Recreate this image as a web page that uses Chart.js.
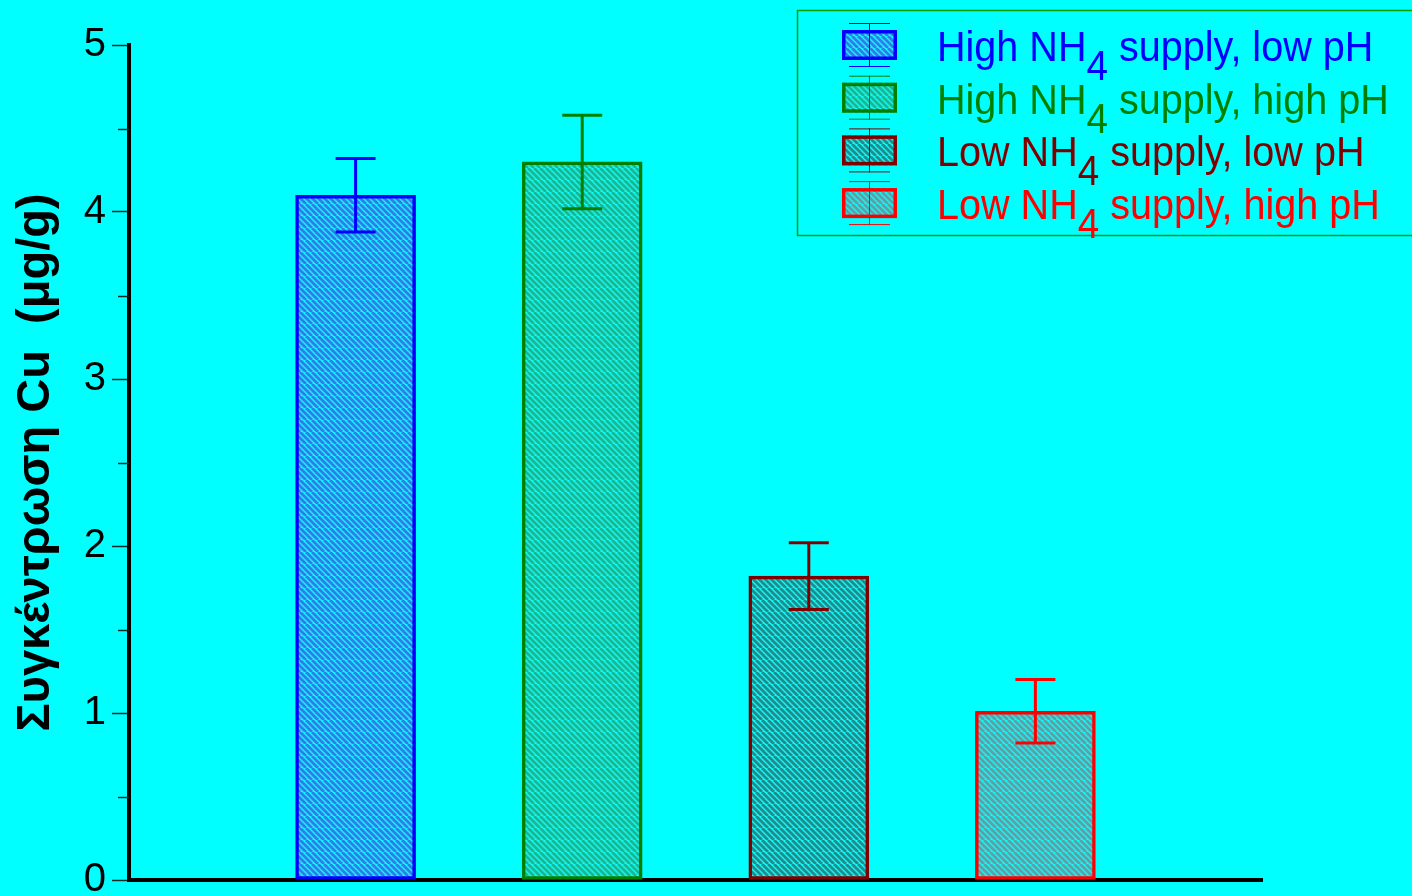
<!DOCTYPE html>
<html>
<head>
<meta charset="utf-8">
<script src="https://cdn.jsdelivr.net/npm/chart.js@4/dist/chart.umd.min.js"></script>
<style>
  html, body { margin: 0; padding: 0; background: #00ffff; overflow: hidden; }
  canvas { display: block; }
</style>
</head>
<body>
<canvas id="myChart" width="1412" height="896"></canvas>
<script>
// Cu concentration per treatment (mean +/- error)
const categories = ['High NH4 supply, low pH', 'High NH4 supply, high pH', 'Low NH4 supply, low pH', 'Low NH4 supply, high pH'];
const legendMain = ['High NH', 'High NH', 'Low NH', 'Low NH'];
const legendRest = [' supply, low pH', ' supply, high pH', ' supply, low pH', ' supply, high pH'];
const means = [4.10, 4.30, 1.82, 1.01];
const errors = [0.22, 0.28, 0.20, 0.19];
const yTicks = [0, 1, 2, 3, 4, 5];

const edgeColors = ['#0000ff', '#008000', '#800000', '#ff0000'];
const stripeColors = ['#3a78e8', '#22b48c', '#2a8888', '#6a9aa2'];
const FONT = '"Liberation Sans", Arial, sans-serif';

// diagonal hatch fill like the original
function makePattern(stripe) {
    const c = document.createElement('canvas');
    c.width = 12; c.height = 12;
    const g = c.getContext('2d');
    g.fillStyle = '#00ffff';
    g.fillRect(0, 0, 12, 12);
    g.strokeStyle = stripe;
    g.lineWidth = 2.8;
    for (let k = -24; k <= 24; k += 6) {
        g.beginPath();
        g.moveTo(k, 0);
        g.lineTo(k + 12, 12);
        g.stroke();
    }
    return g.createPattern(c, 'repeat');
}
const patterns = stripeColors.map(makePattern);

// x axis: empty slot at each end, bars at positions 1..4
const xLabels = [''].concat(categories, ['']);

const datasets = categories.map((name, i) => {
    const data = xLabels.map(() => null);
    data[i + 1] = means[i];
    return {
        label: name,
        data: data,
        backgroundColor: patterns[i],
        borderColor: edgeColors[i],
        borderWidth: 3.5,
        borderSkipped: false,
        barThickness: 120,
        grouped: false
    };
});

// error bars + minor ticks
const errorBars = {
    id: 'errorBars',
    afterDatasetsDraw(chart) {
        const ctx = chart.ctx;
        const y = chart.scales.y;
        ctx.save();
        chart.data.datasets.forEach((ds, i) => {
            const bar = chart.getDatasetMeta(i).data[i + 1];
            const top = y.getPixelForValue(means[i] + errors[i]);
            const bot = y.getPixelForValue(means[i] - errors[i]);
            ctx.strokeStyle = edgeColors[i];
            ctx.lineWidth = 3;
            ctx.beginPath();
            ctx.moveTo(bar.x, top); ctx.lineTo(bar.x, bot);
            ctx.moveTo(bar.x - 20, top); ctx.lineTo(bar.x + 20, top);
            ctx.moveTo(bar.x - 20, bot); ctx.lineTo(bar.x + 20, bot);
            ctx.stroke();
        });
        // minor ticks on the y axis
        ctx.strokeStyle = '#102828';
        ctx.lineWidth = 1.5;
        for (let v = 0.5; v < 5; v += 1) {
            const py = Math.round(y.getPixelForValue(v)) + 0.5;
            ctx.beginPath();
            ctx.moveTo(y.right - 11, py); ctx.lineTo(y.right, py);
            ctx.stroke();
        }
        ctx.restore();
    }
};

// draws text squeezed horizontally (the original font is narrower)
function narrowText(ctx, txt, x, y, size, sx) {
    ctx.save();
    ctx.font = size + 'px ' + FONT;
    ctx.translate(x, y);
    ctx.scale(sx, 1);
    ctx.fillText(txt, 0, 0);
    const w = ctx.measureText(txt).width * sx;
    ctx.restore();
    return w;
}

// legend with subscript 4
const subLegend = {
    id: 'subLegend',
    afterDraw(chart) {
        const ctx = chart.ctx;
        ctx.save();
        ctx.strokeStyle = '#00a000';
        ctx.lineWidth = 1.5;
        ctx.strokeRect(797.5, 10.5, 640, 225);
        categories.forEach((name, i) => {
            const cy = 45 + i * 52.7;
            // swatch
            ctx.fillStyle = patterns[i];
            ctx.fillRect(842, cy - 15, 55, 30);
            ctx.strokeStyle = edgeColors[i];
            ctx.lineWidth = 3.5;
            ctx.strokeRect(843.75, cy - 13.25, 51.5, 26.5);
            ctx.lineWidth = 1;
            ctx.beginPath();
            ctx.moveTo(869.5, cy - 22); ctx.lineTo(869.5, cy + 22);
            ctx.moveTo(849, cy - 21.5); ctx.lineTo(890, cy - 21.5);
            ctx.moveTo(849, cy + 21.5); ctx.lineTo(890, cy + 21.5);
            ctx.stroke();
            // text
            ctx.fillStyle = edgeColors[i];
            ctx.textBaseline = 'alphabetic';
            ctx.textAlign = 'left';
            let x = 937;
            x += narrowText(ctx, legendMain[i], x, cy + 16, 43, 0.92);
            x += narrowText(ctx, '4', x, cy + 35, 42, 0.92);
            narrowText(ctx, legendRest[i], x, cy + 16, 43, 0.92);
        });
        ctx.restore();
    }
};

const ctx = document.getElementById('myChart').getContext('2d');
const myChart = new Chart(ctx, {
    type: 'bar',
    data: {
        labels: xLabels,
        datasets: datasets
    },
    options: {
        responsive: false,
        animation: false,
        devicePixelRatio: 1,
        skipNull: true,
        layout: { padding: { top: 45, right: 150, bottom: 16, left: 0 } },
        plugins: {
            legend: { display: false },
            tooltip: { enabled: false }
        },
        scales: {
            x: {
                type: 'category',
                offset: false,
                grid: { display: false },
                ticks: { display: false },
                border: { color: '#000', width: 4 },
                afterFit(s) { s.height = 0; }
            },
            y: {
                min: 0,
                max: 5,
                afterBuildTicks(s) { s.ticks = yTicks.map(v => ({ value: v })); },
                ticks: {
                    color: '#000',
                    padding: 6,
                    font: { family: FONT, size: 40 }
                },
                grid: {
                    drawOnChartArea: false,
                    tickLength: 17,
                    tickColor: '#102828',
                    tickWidth: 1.5
                },
                border: { color: '#000', width: 4 },
                title: {
                    display: true,
                    text: 'Συγκέντρωση Cu  (μg/g)',
                    color: '#000',
                    font: { family: FONT, size: 47, weight: 'bold' },
                    padding: { top: 8, bottom: 0 }
                },
                afterFit(s) {
                    s.width = 129;
                    s.paddingTop = 0;
                    s.paddingBottom = 0;
                }
            }
        }
    },
    plugins: [errorBars, subLegend]
});
</script>
</body>
</html>
